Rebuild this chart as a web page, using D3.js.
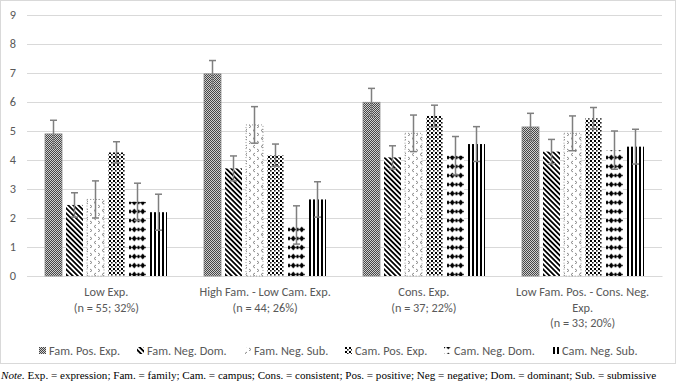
<!DOCTYPE html>
<html>
<head>
<meta charset="utf-8">
<script src="https://cdnjs.cloudflare.com/ajax/libs/d3/7.8.5/d3.min.js"></script>
<style>
  body { margin: 0; background: #fff; }
  svg { display: block; }
  .tick text { fill: #595959; }
</style>
</head>
<body>
<div id="result"></div>
<script>
// chart data
const seriesNames = ['Fam. Pos. Exp.', 'Fam. Neg. Dom.', 'Fam. Neg. Sub.', 'Cam. Pos. Exp.', 'Cam. Neg. Dom.', 'Cam. Neg. Sub.'];
const categories = ['Low Exp.', 'High Fam. - Low Cam. Exp.', 'Cons. Exp.', 'Low Fam. Pos. - Cons. Neg. Exp.'];
const tickLines = [
    ['Low Exp.', '(n = 55; 32%)'],
    ['High Fam. - Low Cam. Exp.', '(n = 44; 26%)'],
    ['Cons. Exp.', '(n = 37; 22%)'],
    ['Low Fam. Pos. - Cons. Neg.', 'Exp.', '(n = 33; 20%)']
];
const yTicks = [0, 1, 2, 3, 4, 5, 6, 7, 8, 9];

const famPosExp = [4.90, 6.97, 5.99, 5.14];
const famNegDom = [2.45, 3.71, 4.09, 4.29];
const famNegSub = [2.64, 5.21, 4.92, 4.92];
const camPosExp = [4.26, 4.17, 5.52, 5.44];
const camNegDom = [2.56, 1.76, 4.15, 4.34];
const camNegSub = [2.20, 2.64, 4.55, 4.46];

const famPosExpErr = [0.47, 0.46, 0.48, 0.47];
const famNegDomErr = [0.42, 0.43, 0.40, 0.42];
const famNegSubErr = [0.64, 0.63, 0.63, 0.60];
const camPosExpErr = [0.37, 0.38, 0.37, 0.37];
const camNegDomErr = [0.64, 0.66, 0.66, 0.66];
const camNegSubErr = [0.62, 0.61, 0.60, 0.60];

const values = [famPosExp, famNegDom, famNegSub, camPosExp, camNegDom, camNegSub];
const errors = [famPosExpErr, famNegDomErr, famNegSubErr, camPosExpErr, camNegDomErr, camNegSubErr];

const noteText = ' Exp. = expression; Fam. = family; Cam. = campus; Cons. = consistent; Pos. = positive; Neg = negative; Dom. = dominant; Sub. = submissive';

const width = 677;
const height = 386;
const plot = { left: 27, right: 662, top: 15, bottom: 276 };
const font = 'Carlito, Calibri, Lato, sans-serif';
const fontSize = '12.3px';
const gridColor = '#d9d9d9';
const errColor = '#7f7f7f';

const svg = d3.select('#result')
    .append('svg')
    .attr('width', width)
    .attr('height', height);

svg.append('rect')
    .attr('width', width)
    .attr('height', height)
    .attr('fill', '#fff');

// chart frame
svg.append('rect')
    .attr('x', 0.5)
    .attr('y', 0.5)
    .attr('width', 675)
    .attr('height', 363)
    .attr('fill', 'none')
    .attr('stroke', gridColor);

// fill patterns for the six series
const defs = svg.append('defs');
const patternIds = ['p0', 'p1', 'p2', 'p3', 'p4', 'p5'];

// checker
let p = defs.append('pattern').attr('id', 'p0').attr('patternUnits', 'userSpaceOnUse')
    .attr('width', 2).attr('height', 2);
p.append('rect').attr('width', 2).attr('height', 2).attr('fill', '#d0d0d0');
p.append('rect').attr('width', 1).attr('height', 1).attr('fill', '#454545');
p.append('rect').attr('x', 1).attr('y', 1).attr('width', 1).attr('height', 1).attr('fill', '#454545');

// downward diagonal stripes
p = defs.append('pattern').attr('id', 'p1').attr('patternUnits', 'userSpaceOnUse')
    .attr('width', 3.6).attr('height', 3.6).attr('patternTransform', 'rotate(-45)');
p.append('rect').attr('width', 3.6).attr('height', 3.6).attr('fill', '#fff');
p.append('rect').attr('width', 1.8).attr('height', 3.6).attr('fill', '#000');

// small grey chevrons
p = defs.append('pattern').attr('id', 'p2').attr('patternUnits', 'userSpaceOnUse')
    .attr('width', 8).attr('height', 8);
p.append('rect').attr('width', 8).attr('height', 8).attr('fill', '#fff');
p.append('path').attr('d', 'M3,1 L1,2.5 L3,4').attr('fill', 'none').attr('stroke', '#8a8a8a').attr('stroke-width', 1);
p.append('path').attr('d', 'M5,5 L7,6.5 L5,8').attr('fill', 'none').attr('stroke', '#8a8a8a').attr('stroke-width', 1);

// black confetti squares
p = defs.append('pattern').attr('id', 'p3').attr('patternUnits', 'userSpaceOnUse')
    .attr('width', 4).attr('height', 4);
p.append('rect').attr('width', 4).attr('height', 4).attr('fill', '#fff');
p.append('rect').attr('width', 2).attr('height', 2).attr('fill', '#000');
p.append('rect').attr('x', 2).attr('y', 2).attr('width', 1.6).attr('height', 1.6).attr('fill', '#222');

// diamonds with triangles
p = defs.append('pattern').attr('id', 'p4').attr('patternUnits', 'userSpaceOnUse')
    .attr('width', 8.5).attr('height', 9);
p.append('rect').attr('width', 8.5).attr('height', 9).attr('fill', '#fff');
p.append('path').attr('d', 'M4.25,1.5 L6.7,4.5 L4.25,7.5 L1.8,4.5 Z').attr('fill', '#000');
p.append('path').attr('d', 'M0,2.3 L1.8,4.5 L0,6.7 Z').attr('fill', '#000');
p.append('path').attr('d', 'M8.5,2.3 L6.7,4.5 L8.5,6.7 Z').attr('fill', '#000');

// vertical stripes
p = defs.append('pattern').attr('id', 'p5').attr('patternUnits', 'userSpaceOnUse')
    .attr('width', 4).attr('height', 4);
p.append('rect').attr('width', 4).attr('height', 4).attr('fill', '#fff');
p.append('rect').attr('x', 1).attr('width', 2).attr('height', 4).attr('fill', '#000');

// scales
const x0 = d3.scaleBand()
    .domain(categories)
    .range([plot.left, plot.right])
    .paddingInner(0.23)
    .paddingOuter(0.115);

const x1 = d3.scaleBand()
    .domain(seriesNames)
    .range([0, x0.bandwidth()])
    .paddingInner(0.19)
    .paddingOuter(0);

const y = d3.scaleLinear()
    .domain([0, 9])
    .range([plot.bottom, plot.top]);

// y axis + gridlines
const yAxisG = svg.append('g')
    .attr('transform', `translate(${plot.left},0)`)
    .call(d3.axisLeft(y).tickValues(yTicks).tickSize(-(plot.right - plot.left)).tickPadding(11));
yAxisG.select('.domain').remove();
yAxisG.selectAll('.tick line').attr('stroke', gridColor);
yAxisG.selectAll('.tick text')
    .style('font-family', font)
    .style('font-size', fontSize);

// x axis (baseline)
const xAxisG = svg.append('g')
    .attr('transform', `translate(0,${plot.bottom})`)
    .call(d3.axisBottom(x0).tickSize(0).tickPadding(0).tickSizeOuter(0));
xAxisG.select('.domain').attr('stroke', gridColor);
xAxisG.selectAll('.tick text').each(function(d, i) {
    const t = d3.select(this).text(null)
        .attr('y', 0)
        .attr('dy', null)
        .style('font-family', font)
        .style('font-size', fontSize);
    tickLines[i].forEach((line, j) => {
        t.append('tspan')
            .attr('x', 0)
            .attr('y', 20 + j * 15.5)
            .text(line);
    });
});

// bars (snapped to whole pixels so the fine patterns render evenly)
const groups = svg.append('g')
    .selectAll('g')
    .data(categories)
    .join('g')
    .attr('transform', d => `translate(${Math.round(x0(d))},0)`);

groups.each(function(cat, ci) {
    const g = d3.select(this);
    seriesNames.forEach((s, si) => {
        const v = values[si][ci];
        const e = errors[si][ci];
        const bx = Math.round(x1(s));
        const bw = Math.round(x1.bandwidth());
        const bar = g.append('rect')
            .attr('x', bx)
            .attr('y', y(v))
            .attr('width', bw)
            .attr('height', y(0) - y(v))
            .attr('fill', `url(#${patternIds[si]})`);
        if (si === 0) bar.attr('stroke', '#8c8c8c').attr('stroke-width', 0.8);
        if (si === 2) bar.attr('stroke', '#9a9a9a').attr('stroke-width', 1).attr('stroke-dasharray', '1,2');

        // error bar
        const cx = bx + bw / 2;
        g.append('line')
            .attr('x1', cx).attr('x2', cx)
            .attr('y1', y(v - e)).attr('y2', y(v + e))
            .attr('stroke', errColor).attr('stroke-width', 1.5);
        [v - e, v + e].forEach(val => {
            g.append('line')
                .attr('x1', cx - 3.5).attr('x2', cx + 3.5)
                .attr('y1', y(val)).attr('y2', y(val))
                .attr('stroke', errColor).attr('stroke-width', 1.5);
        });
    });
});

// legend
const legend = svg.append('g');
const legendGap = 17;
let lx = 0;
seriesNames.forEach((s, i) => {
    const item = legend.append('g');
    item.append('rect')
        .attr('x', 0).attr('y', -4)
        .attr('width', 7).attr('height', 7)
        .attr('fill', `url(#${patternIds[i]})`);
    const txt = item.append('text')
        .attr('x', 10)
        .attr('y', 4)
        .style('font-family', font)
        .style('font-size', fontSize)
        .attr('fill', '#595959')
        .text(s);
    const w = 10 + txt.node().getComputedTextLength();
    item.attr('transform', `translate(${Math.round(lx)},0)`);
    lx += w + legendGap;
});
const legendW = lx - legendGap;
legend.attr('transform', `translate(${Math.round((width - legendW) / 2)},351)`);

// note line
const note = svg.append('text')
    .attr('x', 1)
    .attr('y', 379)
    .style('font-family', '"Liberation Serif", "Times New Roman", serif')
    .style('font-size', '11.1px')
    .attr('fill', '#000');
note.append('tspan').style('font-style', 'italic').text('Note.');
note.append('tspan').text(noteText);
</script>
</body>
</html>
